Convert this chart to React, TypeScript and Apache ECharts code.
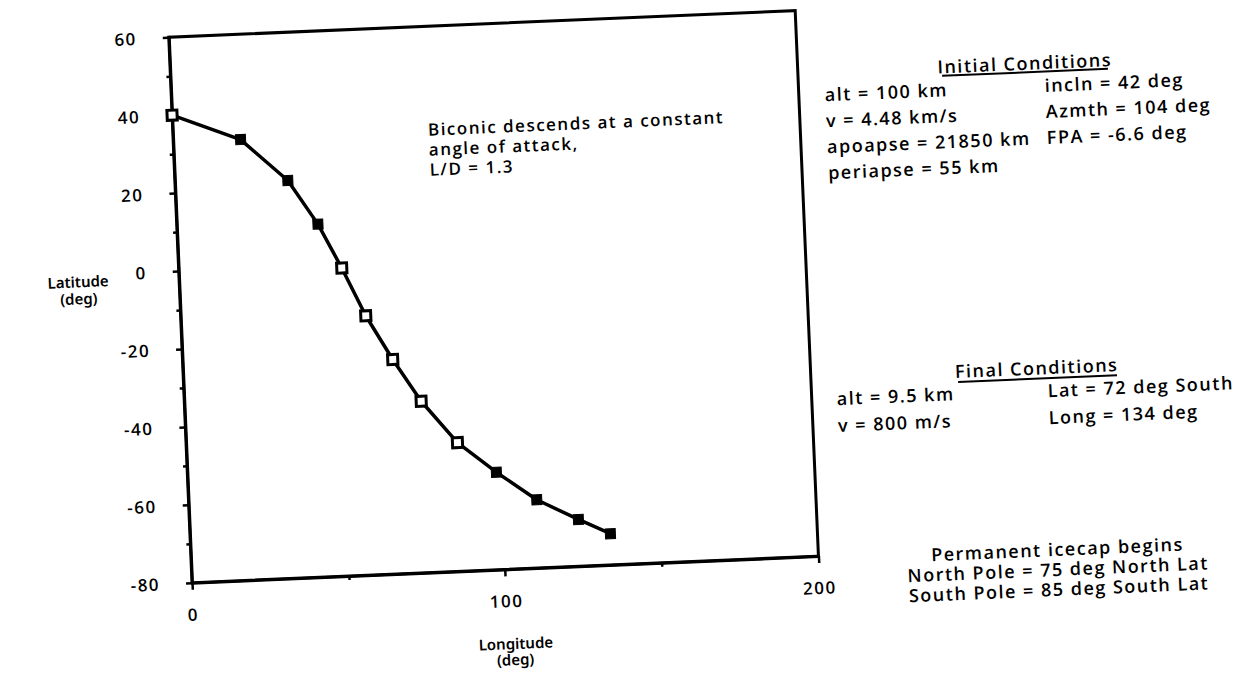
import React, { useEffect, useRef } from "react";
import * as echarts from "echarts";

const longitudes = [0, 21.5, 36, 45, 52, 59, 67, 75.5, 86.5, 98.5, 111, 124, 134];
const latitudes = [40, 33, 22, 10.5, -1, -13.5, -25, -36, -47, -55, -62.5, -68, -72];
const hollowPoints = [0, 4, 5, 6, 7, 8];

const noteLines = ["Biconic descends at a constant", "angle of attack,", "L/D = 1.3"];
const initialLeft = ["alt = 100 km", "v = 4.48 km/s", "apoapse = 21850 km", "periapse = 55 km"];
const initialRight = ["incln = 42 deg", "Azmth = 104 deg", "FPA = -6.6 deg"];
const finalLeft = ["alt = 9.5 km", "v = 800 m/s"];
const finalRight = ["Lat = 72 deg South", "Long = 134 deg"];
const icecapLines = ["Permanent icecap begins", "North Pole = 75 deg North Lat", "South Pole = 85 deg South Lat"];

const FONT = '"Open Sans", "DejaVu Sans", sans-serif';
const TITLE_FONT = '"Noto Sans", "Open Sans", sans-serif';

function txt(text: string, x: number, y: number, size: number, align: string = "left", family: string = FONT) {
  return {
    type: "text",
    x,
    y,
    style: {
      text,
      fill: "#000",
      font: `600 ${size}px ${family}`,
      align,
      verticalAlign: "middle",
    },
  };
}

export default function App() {
  const ref = useRef<HTMLDivElement>(null);
  useEffect(() => {
    if (!ref.current) return;
    const chart = echarts.init(ref.current, undefined, { renderer: "svg" });
    const data = longitudes.map((lon, i) => {
      const hollow = hollowPoints.includes(i);
      return {
        value: [lon, latitudes[i]],
        itemStyle: hollow
          ? { color: "#fff", borderColor: "#000", borderWidth: 3 }
          : { color: "#000", borderColor: "#000", borderWidth: 1 },
      };
    });
    const graphics: any[] = [];
    noteLines.forEach((t, i) => graphics.push(txt(t, 437, 121 + i * 20, 17)));
    graphics.push(txt("Initial Conditions", 1036, 80, 18, "center"));
    graphics.push({
      type: "line",
      shape: { x1: 953, y1: 89.5, x2: 1119, y2: 89.5 },
      style: { stroke: "#000", lineWidth: 2 },
    });
    initialLeft.forEach((t, i) => graphics.push(txt(t, 835, 103 + i * 26, 18)));
    initialRight.forEach((t, i) => graphics.push(txt(t, 1055, 103 + i * 26, 18)));
    graphics.push(txt("Final Conditions", 1035, 385, 18, "center"));
    graphics.push({
      type: "line",
      shape: { x1: 956, y1: 396, x2: 1115, y2: 396 },
      style: { stroke: "#000", lineWidth: 2 },
    });
    finalLeft.forEach((t, i) => graphics.push(txt(t, 834, 407 + i * 27, 18)));
    finalRight.forEach((t, i) => graphics.push(txt(t, 1045, 408 + i * 27, 18)));
    icecapLines.forEach((t, i) => graphics.push(txt(t, 1048, 567 + i * 20, 18, "center")));
    graphics.push(txt("Latitude", 81, 258, 15, "center", TITLE_FONT));
    graphics.push(txt("(deg)", 81, 275, 15, "center", TITLE_FONT));
    graphics.push(txt("Longitude", 503, 638, 15, "center", TITLE_FONT));
    graphics.push(txt("(deg)", 502, 654, 15, "center", TITLE_FONT));

    chart.setOption({
      animation: false,
      backgroundColor: "#fff",
      grid: {
        left: 182,
        top: 18,
        right: 446,
        bottom: 113,
        show: true,
        borderColor: "#000",
        borderWidth: 3,
        backgroundColor: "transparent",
      },
      xAxis: {
        type: "value",
        min: 0,
        max: 200,
        interval: 100,
        axisLine: { show: true, onZero: false, lineStyle: { color: "#000", width: 3 } },
        axisTick: { show: true, inside: false, length: 7, lineStyle: { color: "#000", width: 2.5 } },
        minorTick: { show: true, splitNumber: 2, length: 4, lineStyle: { color: "#000", width: 2.5 } },
        splitLine: { show: false },
        axisLabel: { color: "#000", fontSize: 17, fontWeight: 600, fontFamily: FONT, margin: 23 },
      },
      yAxis: {
        type: "value",
        min: -80,
        max: 60,
        interval: 20,
        axisLine: { show: true, onZero: false, lineStyle: { color: "#000", width: 3 } },
        axisTick: { show: true, inside: false, length: 6, lineStyle: { color: "#000", width: 2.5 } },
        minorTick: { show: true, splitNumber: 2, length: 4, lineStyle: { color: "#000", width: 2.5 } },
        splitLine: { show: false },
        axisLabel: { color: "#000", fontSize: 17, fontWeight: 600, fontFamily: FONT, margin: 32 },
      },
      graphic: graphics,
      series: [
        {
          type: "line",
          data,
          clip: false,
          symbol: "rect",
          symbolSize: 10,
          lineStyle: { color: "#000", width: 3.5 },
          z: 3,
        },
      ],
    });
    return () => chart.dispose();
  }, []);
  return (
    <div
      className="rsk"
      style={{
        position: "absolute",
        left: 0,
        top: 0,
        width: 1255,
        height: 677,
        background: "#fff",
        transform: "rotate(-2.44deg)",
        transformOrigin: "50% 50%",
      }}
    >
      <style>{`.rsk svg text { letter-spacing: 1.5px; } .rsk svg text[style*="Noto"] { letter-spacing: 0; }`}</style>
      <div ref={ref} style={{ width: 1255, height: 677 }} />
    </div>
  );
}
